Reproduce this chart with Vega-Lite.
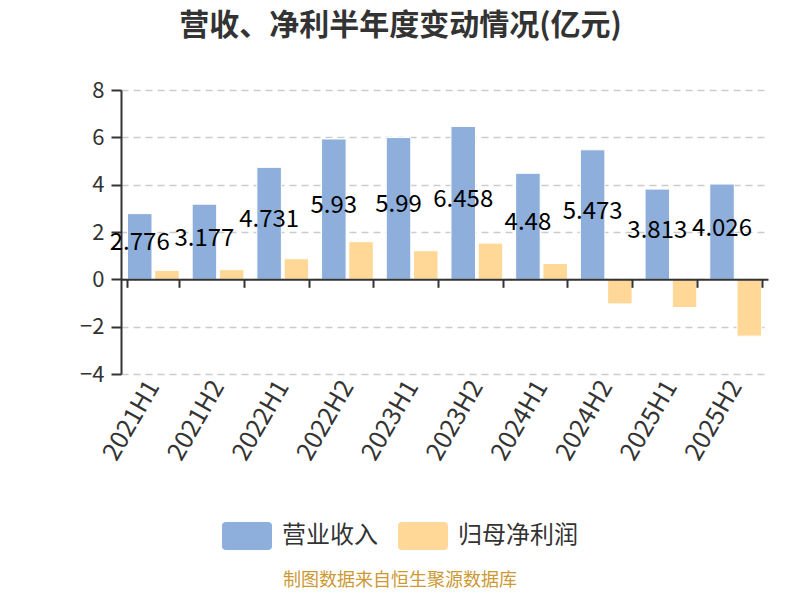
{
  "$schema": "https://vega.github.io/schema/vega-lite/v6.json",
  "width": 647,
  "height": 284,
  "autosize": {"type": "none"},
  "padding": {"left": 121, "top": 90, "right": 32, "bottom": 226},
  "background": "white",
  "title": {
    "text": "营收、净利半年度变动情况(亿元)",
    "fontSize": 30,
    "fontWeight": "bold",
    "color": "#333333",
    "font": "Noto Sans CJK SC",
    "anchor": "middle",
    "dx": -44,
    "offset": 38
  },
  "config": {"font": "Noto Sans CJK SC", "view": {"stroke": null}},
  "data": {
    "values": [
      {"period": "2021H1", "series": "营业收入", "value": 2.776},
      {"period": "2021H2", "series": "营业收入", "value": 3.177},
      {"period": "2022H1", "series": "营业收入", "value": 4.731},
      {"period": "2022H2", "series": "营业收入", "value": 5.93},
      {"period": "2023H1", "series": "营业收入", "value": 5.99},
      {"period": "2023H2", "series": "营业收入", "value": 6.458},
      {"period": "2024H1", "series": "营业收入", "value": 4.48},
      {"period": "2024H2", "series": "营业收入", "value": 5.473},
      {"period": "2025H1", "series": "营业收入", "value": 3.813},
      {"period": "2025H2", "series": "营业收入", "value": 4.026},
      {"period": "2021H1", "series": "归母净利润", "value": 0.38},
      {"period": "2021H2", "series": "归母净利润", "value": 0.41},
      {"period": "2022H1", "series": "归母净利润", "value": 0.87},
      {"period": "2022H2", "series": "归母净利润", "value": 1.59},
      {"period": "2023H1", "series": "归母净利润", "value": 1.21},
      {"period": "2023H2", "series": "归母净利润", "value": 1.53},
      {"period": "2024H1", "series": "归母净利润", "value": 0.67},
      {"period": "2024H2", "series": "归母净利润", "value": -1.04},
      {"period": "2025H1", "series": "归母净利润", "value": -1.19},
      {"period": "2025H2", "series": "归母净利润", "value": -2.4}
    ]
  },
  "layer": [
    {
      "mark": {"type": "bar", "stroke": "white", "strokeWidth": 1},
      "encoding": {
        "x": {
          "field": "period", "type": "nominal", "sort": null,
          "scale": {"paddingInner": 0.2, "paddingOuter": 0.1},
          "axis": {
            "orient": "bottom", "title": null, "domain": false, "ticks": false,
            "labelAngle": -60, "labelFontSize": 25, "labelColor": "#333333",
            "labelPadding": 8, "grid": false
          }
        },
        "xOffset": {"field": "series", "type": "nominal", "sort": null, "scale": {"domain": ["营业收入", "归母净利润"], "paddingInner": 0.1}},
        "y": {
          "field": "value", "type": "quantitative",
          "scale": {"domain": [-4, 8], "nice": false, "zero": true},
          "axis": {
            "title": null, "values": [-4, -2, 0, 2, 4, 6, 8],
            "labelFontSize": 22, "labelColor": "#333333",
            "domainColor": "#333333", "domainWidth": 2,
            "tickColor": "#333333", "tickWidth": 2, "tickSize": 10,
            "labelPadding": 7, "grid": true, "gridColor": "#cccccc",
            "gridDash": [7, 5], "gridWidth": 1.5
          }
        },
        "color": {
          "field": "series", "type": "nominal",
          "scale": {"domain": ["营业收入", "归母净利润"], "range": ["#8eaedb", "#ffd898"]},
          "legend": {
            "orient": "none", "legendX": 101, "legendY": 421,
            "direction": "horizontal",
            "title": "制图数据来自恒生聚源数据库",
            "titleOrient": "bottom", "titleAnchor": "middle",
            "titleFontSize": 18, "titleFontWeight": "normal",
            "titleColor": "#cc9933", "titlePadding": 22, "titleLimit": 1000,
            "symbolType": "M-0.84,-0.56L0.84,-0.56Q1,-0.56,1,-0.4L1,0.4Q1,0.56,0.84,0.56L-0.84,0.56Q-1,0.56,-1,0.4L-1,-0.4Q-1,-0.56,-0.84,-0.56Z",
            "symbolSize": 2500, "symbolStrokeWidth": 0, "symbolOpacity": 1,
            "labelFontSize": 24, "labelColor": "#333333", "labelOffset": 10,
            "labelLimit": 300, "columnPadding": 20
          }
        }
      }
    },
    {
      "transform": [
        {"filter": "datum.series === '营业收入'"},
        {"calculate": "datum.value / 2", "as": "mid"}
      ],
      "mark": {"type": "text", "fontSize": 24, "color": "black", "baseline": "middle", "dy": -3},
      "encoding": {
        "x": {
          "field": "period", "type": "nominal", "sort": null,
          "axis": {
            "orient": "bottom", "offset": -94.67, "labels": false,
            "domain": true, "domainColor": "#333333", "domainWidth": 2,
            "ticks": true, "tickBand": "extent", "tickColor": "#333333",
            "tickWidth": 2, "tickSize": 8, "title": null, "grid": false, "zindex": 1
          }
        },
        "xOffset": {"field": "series", "type": "nominal", "sort": null, "scale": {"domain": ["营业收入", "归母净利润"], "paddingInner": 0.1}},
        "y": {"field": "mid", "type": "quantitative", "axis": {"title": null}},
        "text": {"field": "value", "type": "nominal"}
      }
    }
  ],
  "resolve": {"axis": {"x": "independent"}}
}
